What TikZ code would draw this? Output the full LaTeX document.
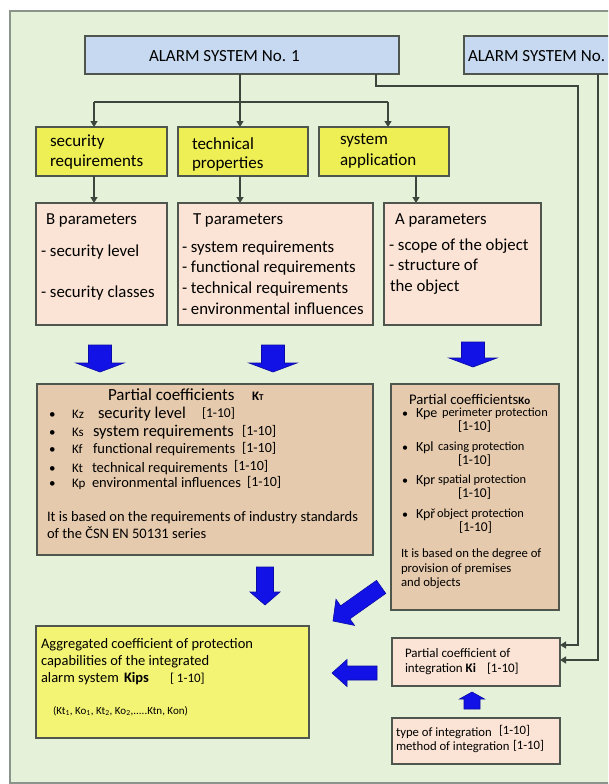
\documentclass[tikz,border=0pt]{standalone}
\usepackage{fontspec}
\setmainfont{Carlito}
\usetikzlibrary{arrows.meta}
\newcommand\FS[1]{\fontsize{#1}{#1}\selectfont}
\definecolor{bggreen}{HTML}{E5F1D8}
\definecolor{framecol}{HTML}{8A948A}
\definecolor{boxline}{HTML}{4E564E}
\definecolor{connline}{HTML}{3C463C}
\definecolor{blueF}{HTML}{C6D9F0}
\definecolor{yellowF}{HTML}{EEEE55}
\definecolor{yellowG}{HTML}{F4F474}
\definecolor{peachF}{HTML}{FBE4D5}
\definecolor{tanF}{HTML}{E6CAAD}
\definecolor{arrowF}{HTML}{1212E6}
\definecolor{arrowD}{HTML}{0A0AA8}
\tikzset{
  box/.style={draw=boxline, line width=1.3pt, inner sep=0pt, outer sep=0pt},
  conn/.style={draw=connline, line width=1.2pt},
  connA/.style={conn, -{Triangle[length=6pt,width=7pt]}},
  lbl/.style={anchor=base west, inner sep=0pt, outer sep=0pt, text=black},
  blkarr/.style={fill=arrowF, draw=arrowD, line width=0.6pt, line join=miter},
}
\newcommand\BlkArr[6]{\filldraw[blkarr, shift={#1}, rotate=#2] (0,0) -- (-#6,#5) -- (-#6,#4) -- (-#3,#4) -- (-#3,-#4) -- (-#6,-#4) -- (-#6,-#5) -- cycle;}
\begin{document}
\begin{tikzpicture}[x=1pt, y=-1pt]
\useasboundingbox (0,0) rectangle (608,784);
\clip (0,0) rectangle (608,784);
\fill[white] (0,0) rectangle (608,784);
\filldraw[fill=bggreen, draw=framecol, line width=1.2pt] (10,11) rectangle (640,783);

% boxes
\node[box, fill=blueF, minimum width=314pt, minimum height=38pt] (a1) at (242,55) {};
\node[box, fill=blueF, minimum width=166pt, minimum height=38pt] (a2) at (547,55) {};
\node[box, fill=yellowF, minimum width=131pt, minimum height=49pt] (sec) at (101.5,151.5) {};
\node[box, fill=yellowF, minimum width=130pt, minimum height=49pt] (tech) at (243,151.5) {};
\node[box, fill=yellowF, minimum width=130pt, minimum height=49pt] (sysapp) at (384,151.5) {};
\node[box, fill=peachF, minimum width=131pt, minimum height=122pt] (bpar) at (101.5,264) {};
\node[box, fill=peachF, minimum width=195pt, minimum height=122pt] (tpar) at (275.5,264) {};
\node[box, fill=peachF, minimum width=157pt, minimum height=122pt] (apar) at (462.5,264) {};
\node[box, fill=tanF, minimum width=336pt, minimum height=171pt] (kt) at (205,469.5) {};
\node[box, fill=tanF, minimum width=168pt, minimum height=226pt] (ko) at (475,497) {};
\node[box, fill=yellowG, minimum width=273pt, minimum height=112pt] (agg) at (172.5,682) {};
\node[box, fill=peachF, minimum width=168pt, minimum height=48pt] (ki) at (476,662) {};
\node[box, fill=peachF, minimum width=168pt, minimum height=46pt] (integ) at (476,741) {};

% thin connectors
\coordinate (bar) at (240,102);
\coordinate (barL) at (94,102);
\coordinate (barR) at (388,102);
\coordinate (sx) at (416,0);
\coordinate (r1) at (376,86);
\coordinate (r1b) at (578,645);
\coordinate (r2) at (598,660);
\draw[conn] (a1.south -| bar) -- (bar);
\draw[conn] (barL) -- (barR);
\draw[connA] (barL) -- (barL |- sec.north);
\draw[connA] (bar) -- (bar |- tech.north);
\draw[connA] (barR) -- (barR |- sysapp.north);
\draw[connA] (sec.south -| barL) -- (barL |- bpar.north);
\draw[connA] (tech.south -| bar) -- (bar |- tpar.north);
\draw[connA] (sysapp.south -| sx) -- (sx |- apar.north);
\draw[connA] (a1.south -| r1) -- (r1) -- (r1 -| r1b) -- (r1b) -- (r1b -| ki.east);
\draw[connA] (a2.south -| r2) -- (r2) -- (r2 -| ki.east);

% block arrows
\BlkArr{(100,372)}{270}{27}{11.5}{24}{9}
\BlkArr{(273,372)}{270}{27}{11.5}{24}{9}
\BlkArr{(473,367)}{270}{25}{11.5}{24}{9}
\BlkArr{(265,605)}{270}{38}{8.5}{15}{13}
\BlkArr{(333,621)}{215.3}{59}{8}{16}{15}
\BlkArr{(332,673)}{180}{45}{7}{13.5}{15}
\BlkArr{(472,692)}{90}{17}{8}{12.5}{7}

% texts
\node[lbl, font=\FS{17}] (t1) at (149,62) {ALARM SYSTEM No. 1};
\node[lbl, font=\FS{17}] (t2) at (468,62) {ALARM SYSTEM No.};
\node[lbl, font=\FS{17}] (t3) at (50,146) {security};
\node[lbl, font=\FS{17}] (t4) at (50,166) {requirements};
\node[lbl, font=\FS{17}] (t5) at (192,149) {technical};
\node[lbl, font=\FS{17}] (t6) at (192,168) {properties};
\node[lbl, font=\FS{17}] (t7) at (340,144) {system};
\node[lbl, font=\FS{17}] (t8) at (340,165) {application};

\node[lbl, font=\FS{16.8}] (b1) at (46,224) {B parameters};
\node[lbl, font=\FS{16.8}] (b2) at (41,256) {- security level};
\node[lbl, font=\FS{16.8}] (b3) at (41,297) {- security classes};
\node[lbl, font=\FS{16.8}] (p1) at (193,224) {T parameters};
\node[lbl, font=\FS{16.8}] (p2) at (182,252) {- system requirements};
\node[lbl, font=\FS{16.8}] (p3) at (182,272) {- functional requirements};
\node[lbl, font=\FS{16.8}] (p4) at (182,293) {- technical requirements};
\node[lbl, font=\FS{16.8}] (p5) at (182,314) {- environmental influences};
\node[lbl, font=\FS{16.8}] (q1) at (395,224) {A parameters};
\node[lbl, font=\FS{16.8}] (q2) at (389,250) {- scope of the object};
\node[lbl, font=\FS{16.8}] (q3) at (389,270) {- structure of};
\node[lbl, font=\FS{16.8}] (q4) at (390,291) {the object};

% KT box
\node[lbl, font=\FS{17}] (k0) at (108,400) {Partial coefficients};
\node[lbl, font=\FS{13}] (k0b) at (252,400) {\textbf{K}{\FS{9}\textbf{T}}};
\foreach \yy/\nm in {418/ka,436/kb,453/kc,472/kd,487/ke}{
  \node[lbl, font=\FS{13}] (\nm) at (49,\yy) {\textbullet};
}
\node[lbl, font=\FS{13}] (k1a) at (72,418) {Kz};
\node[lbl, font=\FS{16.5}] (k1b) at (98,418) {security level};
\node[lbl, font=\FS{13.5}] (k1c) at (202,417) {[1-10]};
\node[lbl, font=\FS{13}] (k2a) at (72,436) {Ks};
\node[lbl, font=\FS{16.5}] (k2b) at (93,436) {system requirements};
\node[lbl, font=\FS{14}] (k2c) at (242,435) {[1-10]};
\node[lbl, font=\FS{13}] (k3a) at (72,453) {Kf};
\node[lbl, font=\FS{14.5}] (k3b) at (93,453) {functional requirements};
\node[lbl, font=\FS{14}] (k3c) at (242,452) {[1-10]};
\node[lbl, font=\FS{13}] (k4a) at (72,472) {Kt};
\node[lbl, font=\FS{14.5}] (k4b) at (92,472) {technical requirements};
\node[lbl, font=\FS{14}] (k4c) at (234,470) {[1-10]};
\node[lbl, font=\FS{13}] (k5a) at (72,487) {Kp};
\node[lbl, font=\FS{14.5}] (k5b) at (92,487) {environmental influences};
\node[lbl, font=\FS{14}] (k5c) at (247,486) {[1-10]};
\node[lbl, font=\FS{14.5}] (k6) at (47,521) {It is based on the requirements of industry standards};
\node[lbl, font=\FS{14.5}] (k7) at (47,538) {of the ČSN EN 50131 series};

% Ko box
\node[lbl, font=\FS{14.7}] (o0) at (409,404) {Partial coefficients{\FS{11}\textbf{Ko}}};
\foreach \yy/\nm in {417/oa,451/ob,484/oc,518/od}{
  \node[lbl, font=\FS{12}] (\nm) at (402,\yy) {\textbullet};
}
\node[lbl, font=\FS{14}] (o1a) at (416,417) {Kpe};
\node[lbl, font=\FS{12.4}] (o1b) at (442,416) {perimeter protection};
\node[lbl, font=\FS{13.5}] (o1c) at (458,430) {[1-10]};
\node[lbl, font=\FS{14}] (o2a) at (416,451) {Kpl};
\node[lbl, font=\FS{12.4}] (o2b) at (438,450) {casing protection};
\node[lbl, font=\FS{13.5}] (o2c) at (458,464) {[1-10]};
\node[lbl, font=\FS{14}] (o3a) at (416,484) {Kpr};
\node[lbl, font=\FS{12.4}] (o3b) at (438,483) {spatial protection};
\node[lbl, font=\FS{13.5}] (o3c) at (458,497) {[1-10]};
\node[lbl, font=\FS{14}] (o4a) at (416,518) {Kpř};
\node[lbl, font=\FS{12.4}] (o4b) at (437,517) {object protection};
\node[lbl, font=\FS{13.5}] (o4c) at (459,531) {[1-10]};
\node[lbl, font=\FS{12.7}] (o5) at (401,557) {It is based on the degree of};
\node[lbl, font=\FS{12.7}] (o6) at (401,572) {provision of premises};
\node[lbl, font=\FS{12.7}] (o7) at (401,586) {and objects};

% aggregated
\node[lbl, font=\FS{14.5}] (g1) at (41,648) {Aggregated coefficient of protection};
\node[lbl, font=\FS{14.5}] (g2) at (41,665) {capabilities of the integrated};
\node[lbl, font=\FS{14.5}] (g3) at (41,682) {alarm system};
\node[lbl, font=\FS{14.5}] (g4) at (124,682) {\textbf{Kips}};
\node[lbl, font=\FS{13}] (g5) at (170,682) {[ 1-10]};
\node[lbl, font=\FS{11}] (g6) at (53,714) {(Kt\textsubscript{1}, Ko\textsubscript{1}, Kt\textsubscript{2}, Ko\textsubscript{2},.....Ktn, Kon)};

% Ki
\node[lbl, font=\FS{13}] (i1) at (405,657) {Partial coefficient of};
\node[lbl, font=\FS{13}] (i2) at (405,672) {integration \textbf{Ki}};
\node[lbl, font=\FS{13}] (i3) at (487,672) {[1-10]};
\node[lbl, font=\FS{12.7}] (n1) at (396,736) {type of integration};
\node[lbl, font=\FS{12.7}] (n2) at (499,734) {[1-10]};
\node[lbl, font=\FS{12.7}] (n3) at (396,750) {method of integration};
\node[lbl, font=\FS{12.7}] (n4) at (513,749) {[1-10]};
\end{tikzpicture}
\end{document}
